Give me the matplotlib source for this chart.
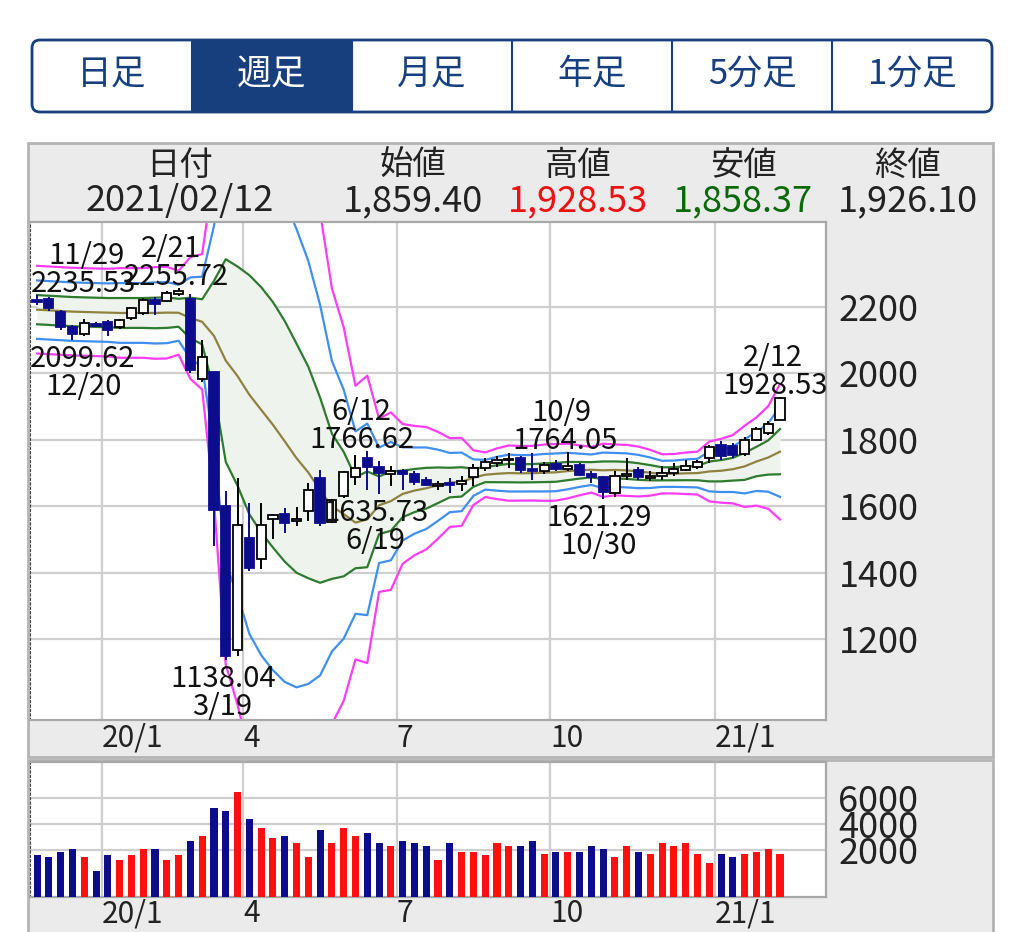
import numpy as np
import pandas as pd
import matplotlib
matplotlib.use('Agg')
import matplotlib.pyplot as plt
from matplotlib.patches import Rectangle, FancyBboxPatch

plt.rcParams['font.family'] = ['Noto Sans CJK JP', 'DejaVu Sans']

# weekly candles, 2019/11/29 .. 2021/02/12
opens = [2222, 2225, 2186, 2140, 2118, 2150, 2155, 2140, 2168, 2183, 2222, 2218, 2238,
         2225, 1982, 2003, 1600, 1167, 1503, 1440, 1560, 1576, 1556, 1585, 1685, 1552,
         1632, 1688, 1745, 1718, 1698, 1706, 1697, 1680, 1662, 1670, 1667, 1688, 1714,
         1730, 1738, 1745, 1712, 1705, 1728, 1712, 1725, 1697, 1688, 1640, 1690, 1708,
         1686, 1692, 1700, 1710, 1718, 1745, 1784, 1780, 1758, 1800, 1820, 1859.40]
highs = [2235.53, 2230, 2192, 2146, 2164, 2154, 2160, 2163, 2200, 2226, 2230, 2248, 2255.72,
         2238, 2100, 2005, 1645, 1685, 1610, 1610, 1576, 1595, 1597, 1670, 1710, 1622,
         1705, 1755, 1766.62, 1735, 1720, 1712, 1705, 1688, 1676, 1685, 1690, 1728, 1745,
         1752, 1760, 1750, 1760, 1732, 1740, 1764.05, 1730, 1705, 1692, 1705, 1745, 1718,
         1705, 1720, 1730, 1738, 1740, 1785, 1795, 1790, 1808, 1840, 1856, 1928.53]
lows = [2205, 2188, 2130, 2099.62, 2112, 2139, 2112, 2134, 2160, 2176, 2175, 2214, 2232,
        2000, 1975, 1480, 1138.04, 1150, 1405, 1410, 1500, 1520, 1540, 1555, 1540, 1548,
        1625, 1665, 1650, 1635.73, 1660, 1650, 1665, 1660, 1650, 1640, 1645, 1662, 1705,
        1718, 1715, 1700, 1680, 1698, 1705, 1705, 1690, 1670, 1621.29, 1628, 1680, 1680,
        1675, 1680, 1690, 1705, 1712, 1730, 1740, 1745, 1752, 1795, 1815, 1858.37]
closes = [2215, 2197, 2140, 2118, 2152, 2143, 2132, 2160, 2197, 2221, 2208, 2243, 2248,
          2010, 2048, 1590, 1150, 1543, 1415, 1542, 1573, 1550, 1560, 1648, 1550, 1619,
          1702, 1715, 1718, 1700, 1706, 1698, 1672, 1665, 1667, 1665, 1675, 1716, 1733,
          1740, 1742, 1708, 1705, 1725, 1713, 1722, 1695, 1688, 1643, 1690, 1698, 1688,
          1692, 1700, 1712, 1722, 1732, 1778, 1750, 1755, 1800, 1832, 1848, 1926.10]
volumes = [1615, 1440, 1870, 2050, 1440, 385, 1615, 1230, 1615, 2050, 2050, 1230, 1615,
           2720, 3100, 5200, 5000, 6490, 4360, 3720, 2900, 3100, 2510, 1440, 3540, 2510,
           3720, 3100, 3330, 2510, 2300, 2720, 2510, 2300, 1230, 2510, 1870, 1870, 1615,
           2510, 2300, 2300, 2720, 1670, 1870, 1870, 1870, 2300, 2080, 1440, 2300, 1870,
           1670, 2510, 2300, 2510, 1670, 1025, 1670, 1440, 1670, 1870, 2080, 1670]

# 13-week band centre / sigma for the first 12 weeks (earlier data not shown)
ma_early = [2192, 2190, 2188, 2186, 2185, 2184, 2183, 2182, 2182, 2182, 2182, 2183]
sd_early = [44, 44, 44, 44, 44, 44, 44, 45, 45, 45, 46, 46]

tick_pos = [5.5, 17.5, 30.5, 43.5, 57.5]
tick_labels = ['20/1', '4', '7', '10', '21/1']
price_ticks = [1200, 1400, 1600, 1800, 2000, 2200]
vol_ticks = [2000, 4000, 6000]

tabs = ['日足', '週足', '月足', '年足', '5分足', '1分足']
head_names = ['日付', '始値', '高値', '安値', '終値']
head_vals = ['2021/02/12', '1,859.40', '1,928.53', '1,858.37', '1,926.10']

# (week, price, date, high/low)
marks = [(0, 2235.53, '11/29', 'h'), (12, 2255.72, '2/21', 'h'), (3, 2099.62, '12/20', 'l'),
         (16, 1138.04, '3/19', 'l'), (28, 1766.62, '6/12', 'h'), (29, 1635.73, '6/19', 'l'),
         (45, 1764.05, '10/9', 'h'), (48, 1621.29, '10/30', 'l'), (63, 1928.53, '2/12', 'h')]
# horizontal shift of value / date label, pixels
mark_dx = [(46, 49), (-2, -8), (10, 11), (-3, -4), (-5, -6), (-3, -4), (-3, -6), (-4, -5), (-5, -7)]

navy = '#173f7e'
down_col = '#0c0c8c'
W, H = 1024, 932

fig = plt.figure(figsize=(10.24, 9.32), dpi=100)
bg = fig.add_axes([0, 0, 1, 1])
bg.set_xlim(0, W)
bg.set_ylim(H, 0)
bg.axis('off')

def fa(x0, y0, x1, y1):
    return [x0 / W, 1 - y1 / H, (x1 - x0) / W, (y1 - y0) / H]

# tabs
bg.add_patch(FancyBboxPatch((32, 40), 960, 72, boxstyle='round,pad=0,rounding_size=8',
                            fc='white', ec=navy, lw=2))
bg.add_patch(Rectangle((192, 41), 160, 70, fc=navy, ec='none'))
for k in range(1, 6):
    bg.plot([32 + 160 * k] * 2, [40, 112], color=navy, lw=1.5)
for k, t in enumerate(tabs):
    bg.text(112 + 160 * k, 74, t, ha='center', va='center', fontsize=25,
            color='white' if k == 1 else navy)

# panels
bg.add_patch(Rectangle((28, 143), 965, 614, fc='#ebebeb', ec='#b4b4b4', lw=2))
bg.add_patch(Rectangle((28, 760), 965, 190, fc='#ebebeb', ec='#b4b4b4', lw=2))
head_x = [180, 413, 578, 743, 908]
head_col = ['#222222', '#222222', '#ee1111', '#0a6a0a', '#222222']
for hx, n, v, col in zip(head_x, head_names, head_vals, head_col):
    bg.text(hx, 165, n, ha='center', va='center', fontsize=24, color='#222222')
    bg.text(hx, 201, v, ha='center', va='center', fontsize=26, color=col)

x = np.arange(len(closes))
o = np.array(opens)
c = np.array(closes)
up = c >= o

# price chart
ax = fig.add_axes(fa(30, 222, 826, 720))
ax.set_facecolor('white')
ax.set_xlim(-0.6, 66.9)
ax.set_ylim(956, 2456)

s = pd.Series(closes)
ma = s.rolling(13).mean().to_numpy()
sd = s.rolling(13).std(ddof=0).to_numpy()
ma[:12] = ma_early
sd[:12] = sd_early

ax.fill_between(x, ma - sd, ma + sd, color='#eef3ee', lw=0, zorder=1)
for k, col in [(3, '#ff3cf5'), (2, '#3f8ff0'), (1, '#2e7b2e')]:
    ax.plot(x, ma + k * sd, color=col, lw=1.6, zorder=2)
    ax.plot(x, ma - k * sd, color=col, lw=1.6, zorder=2)
ax.plot(x, ma, color='#8f8240', lw=1.6, zorder=2)

edge = np.where(up, 'black', down_col)
face = np.where(up, 'white', down_col)
ax.vlines(x, lows, highs, colors=edge, lw=1.4, zorder=3)
ax.bar(x, np.maximum(np.abs(c - o), 2), bottom=np.minimum(o, c), width=0.78,
       color=face, edgecolor=edge, lw=1.3, zorder=4)

for (i, p, d, kind), (dxv, dxd) in zip(marks, mark_dx):
    dyv, dyd = (11, 39) if kind == 'h' else (-19, -47)
    for txt, dx, dy in [(f'{p:.2f}', dxv, dyv), (d, dxd, dyd)]:
        t = ax.annotate(txt, xy=(i, p), xytext=(dx * 0.72, dy * 0.72), textcoords='offset points',
                        ha='center', va='center', fontsize=21, color='#111111',
                        annotation_clip=False, zorder=5)
        t.set_clip_on(True)

ax.set_xticks(tick_pos)
ax.set_xticklabels(tick_labels)
ax.set_yticks(price_ticks)
ax.yaxis.tick_right()
ax.tick_params(axis='y', length=0, pad=9, labelsize=26, labelcolor='#222222')
ax.tick_params(axis='x', length=0, pad=2, labelsize=21.5, labelcolor='#222222')
plt.setp(ax.get_xticklabels(), ha='left')
ax.grid(color='#cfcfcf', lw=1.6)
ax.set_axisbelow(True)
for sp in ['top', 'right', 'bottom']:
    ax.spines[sp].set_color('#a8a8a8')
    ax.spines[sp].set_linewidth(1.6)
ax.spines['left'].set_linestyle((0, (2, 2)))
ax.spines['left'].set_color('#444444')

# volume chart
vol_floor = -1615
axv = fig.add_axes(fa(30, 762, 826, 897))
axv.set_facecolor('white')
axv.set_xlim(-0.6, 66.9)
axv.set_ylim(vol_floor, 8770)
vcol = np.where(up, '#ff1010', down_col)
axv.bar(x, np.array(volumes) - vol_floor, bottom=vol_floor, width=0.6, color=vcol, zorder=3)
axv.set_xticks(tick_pos)
axv.set_xticklabels(tick_labels)
axv.set_yticks(vol_ticks)
axv.yaxis.tick_right()
axv.tick_params(axis='y', length=0, pad=9, labelsize=26, labelcolor='#222222')
axv.tick_params(axis='x', length=0, pad=1, labelsize=21.5, labelcolor='#222222')
plt.setp(axv.get_xticklabels(), ha='left')
axv.grid(color='#cfcfcf', lw=1.6)
axv.set_axisbelow(True)
for sp in ['top', 'right', 'bottom']:
    axv.spines[sp].set_color('#a8a8a8')
    axv.spines[sp].set_linewidth(1.6)
axv.spines['left'].set_linestyle((0, (2, 2)))
axv.spines['left'].set_color('#444444')

fig.savefig('out.png', dpi=100)
